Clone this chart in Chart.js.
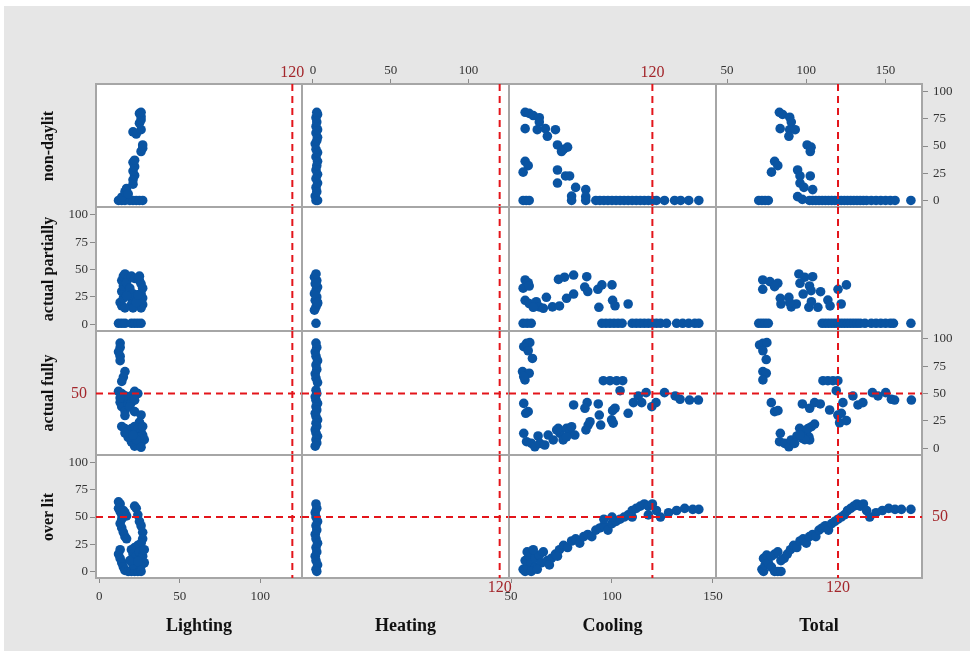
<!DOCTYPE html>
<html>
<head>
<meta charset="utf-8">
<script src="https://cdn.jsdelivr.net/npm/chart.js@4.4.1/dist/chart.umd.min.js"></script>
<style>
  body { margin: 0; width: 976px; height: 657px; background: #fff; overflow: hidden; position: relative; }
  #plot { position: absolute; left: 4px; top: 6px; width: 966px; height: 645px; background: #e6e6e6; }
  #plot canvas { position: absolute; }
  .lab { position: absolute; font-family: "Liberation Serif", "Times New Roman", serif; font-weight: bold; color: #111; white-space: nowrap; }
  .col { font-size: 18px; transform: translate(-50%, -50%); }
  .row { font-size: 16px; transform: translate(-50%, -50%) rotate(-90deg); }
</style>
</head>
<body>
<div id="plot"></div>
<script>
// matrix plot: energy use (columns) against daylight classes (rows)
const columns = ['Lighting', 'Heating', 'Cooling', 'Total'];
const rows = ['non-daylit', 'actual partially', 'actual fully', 'over lit'];
const xTicks = [[0, 50, 100], [0, 50, 100], [50, 100, 150], [50, 100, 150]];
const yTicks = [0, 25, 50, 75, 100];
const xRef = 120;
const yRef = 50;

// ---- non-daylit row ----
const lightingNonDaylit = [[12,0],[14,0],[16,0],[19,0],[21,0],[23,0],[25,0],[27,0],[14,3],[16,8],[17,11],[18,6],
  [21,15],[21,19],[22,23],[21,27],[22,31],[21,35],[22,37],[26,45],[27,48],[27,51],[21,63],[23,61],[26,65],
  [25,71],[26,74],[26,77],[25,80],[26,81]];
const heatingNonDaylit = [[2,0],[3,0],[1.5,4],[2.5,8],[2,12],[3,16],[2,20],[3,24],[2,28],[2.5,32],[3,36],[2,40],
  [3,44],[2,47],[1.5,52],[2.5,55],[3,58],[2,62],[3,65],[2,68],[2.5,72],[2,76],[3,79],[2.5,81]];
const coolingNonDaylit = [[57,81],[59,80],[61,78],[64,76],[64,72],[57,66],[63,65],[67,66],[72,65],[68,59],[73,51],
  [76,47],[78,49],[75,45],[57,36],[58.5,32],[56,26],[73,28],[77,22.5],[79,22.5],[73,16],[82,12],[87,10],[80,4],[87,3.5],
  [56,0],[57.5,0],[59,0],[80,0],[87,0],[92,0],[94,0],[96,0],[98,0],[100,0],[102,0],[104,0],[106,0],[108,0],[110,0],
  [112,0],[114,0],[116,0],[118,0],[120,0],[122,0],[126,0],[131,0],[134,0],[138,0],[143,0]];
const totalNonDaylit = [[83,81],[85,79],[89.5,76.5],[90.5,72],[83.5,66],[89.5,65],[93,65],[89,59],[100.5,51],[103,49],
  [102.5,45],[80,36],[82,32],[78,26],[94.5,28],[96,22.5],[102.5,22.5],[96,16],[98.5,12],[104,10],[94.5,3.5],[97.5,1],
  [70,0],[72,0],[74,0],[76,0],[102,0],[104,0],[106,0],[108,0],[110,0],[112,0],[114,0],[116,0],[118,0],[120,0],[122,0],
  [124,0],[126,0],[128,0],[130,0],[132,0],[134,0],[136,0],[138,0],[141,0],[144,0],[147,0],[150,0],[153,0],[156,0],[166,0]];

// ---- actual partially row ----
const lightingPartial = [[12,1],[14,1],[16,1],[20,1],[22,1],[24,1],[26,1],[13,20],[14,17],[15,24],[14,30],[15,35],
  [14,40],[15,44],[16,46],[18,42],[17,38],[19,33],[20,44],[22,42],[24,42],[25,40],[26,37],[27,33],[26,28],[27,24],
  [27,18],[26,15],[21,28],[20,24],[20,18],[21,15],[23,20],[24,27],[17,26],[16,15],[25,44]];
const heatingPartial = [[2,1],[1,13],[2,16],[3,19],[1.5,22],[2.5,25],[1,28],[2,31],[3,34],[1.5,37],[2.5,40],[1,43],
  [2,46],[3,20],[2,38]];
const coolingPartial = [[57,40.5],[58.5,38],[56,33],[59,35],[57,22],[59,19],[62.5,20.7],[64,16],[67.5,24.7],[70.5,16],
  [74,16.8],[77.5,23.8],[81,27.7],[73.5,41],[76.5,43],[81,45],[87.5,43.5],[86.5,34],[88,30],[93,32],[95,36],[93.5,15.6],
  [100,36],[100.3,22],[101.5,17],[108,18.6],[61,15.6],[66,14.7],
  [56,1],[58,1],[60,1],[95,1],[97,1],[99,1],[101,1],[103,1],[105,1],[110,1],[112,1],[114,1],[116,1],[118,1],[120,1],
  [122,1],[124,1],[127,1],[132,1],[135,1],[138,1],[141,1],[143,1]];
const totalPartial = [[72.5,40.5],[77,39],[82,37.5],[72.5,32],[80,34.4],[95.3,46],[99,43],[104,43.5],[96,37.5],[102,35],
  [98,27.7],[103,30.7],[109,29.8],[120,32],[125.3,36],[83.6,23.8],[89,24.7],[84,18.6],[90.5,16],[93.7,18.6],[101.6,15.6],
  [107.3,15.6],[103.2,20.7],[113.6,22.2],[115,16.8],[122,18.6],[89.5,19.8],
  [70,1],[72,1],[74,1],[76,1],[110,1],[112,1],[114,1],[116,1],[118,1],[120,1],[122,1],[124,1],[126,1],[128,1],[130,1],
  [132,1],[134,1],[137,1],[141,1],[144,1],[147,1],[150,1],[153,1],[155,1],[166,1]];

// ---- actual fully row ----
const lightingFully = [[13,96],[13,92],[12,88],[13,84],[13,80],[16,70],[15,65],[14,61],[12,52],[14,50],[16,48],[18,46],
  [20,48],[22,52],[24,50],[15,44],[13,42],[14,38],[16,34],[18,40],[20,42],[22,44],[13,46],[16,30],[19,38],[22,33.5],
  [26,30.5],[25,24],[14,20],[16,18],[18,16],[20,18],[22,20],[24,18],[26,15],[27,12],[28,8],[26,5],[24,3],[22,2],[20,6],
  [18,10],[16,14],[27,20],[25,10],[23,8],[21,12],[26,1]];
const heatingFully = [[2,96],[2.5,92],[1.5,88],[2,84],[3,80],[2,76],[2.5,72],[1.5,68],[2,64],[3,60],[2,53],[2.5,50],
  [1.5,47],[2,44],[3,41],[2,38],[2.5,35],[1.5,32],[2,29],[3,26],[2,23],[2.5,20],[1.5,17],[2,14],[3,11],[2,8],[2.5,5],[1.5,2]];
const coolingFully = [[57.7,95.8],[59.3,96.4],[56.3,92.7],[58.5,89],[60.6,82],[55.7,70],[59,68.5],[56.9,62.4],[56.3,65.4],
  [95.7,61.7],[99,61.7],[102.3,61.7],[105.3,61.7],[104,52.6],[56.3,41],[58.5,33.5],[57.3,32],
  [81,39.6],[87.7,41.7],[86.6,36.6],[93.2,40.5],[93.7,30.4],[94.4,21.3],[101.5,36.6],[100.3,34.4],[99.8,26],[100.6,23],
  [108,32],[110.6,41.7],[113,47.8],[114.7,41.7],[116.9,50.8],[119.7,38],[121.8,41.7],[126,50.8],[131.3,47.8],[133.7,44.8],
  [138.4,44.1],[142.8,44.1],[56.3,13.8],[57.7,6.1],[60.1,4.6],[61.8,1.5],[63.4,11.3],[64.3,4.6],[66.7,3.1],[68.4,12.2],
  [70.9,7.7],[73.4,18.3],[74.2,13.8],[75.8,7.7],[77.5,18.3],[79.2,15.2],[80,19.8],[81.6,12.2],[87.1,16.8],[88.2,21.3],
  [89.1,24.3],[77.5,10.6],[72.6,16.8]];
const totalFully = [[70.5,94.3],[72.6,95.8],[75.1,96.4],[72.6,89],[74.7,81],[72.6,70],[74.7,68.5],[72.6,62.4],[77.9,41.7],
  [80,33.5],[82.1,34.4],[83.6,13.8],[83.1,6.1],[86.3,4.6],[89,1.5],[90.5,7.7],[92.6,4.6],[94.1,11.3],[95.8,18.3],[97.5,9.2],
  [100,15.2],[101.6,10.6],[103.2,19.8],[105.2,22.2],[102.1,7.7],[98,16],[101,18],[99,8],[96,12],
  [97.5,40.5],[102.1,36.6],[105.2,41.7],[108.8,40.5],[110.5,61.7],[113.6,61.7],[116.8,61.7],[119.9,61.7],[118.9,52.6],
  [114.7,35],[119.9,30.4],[122.1,32],[121,23.4],[125.3,25.3],[123.1,41.7],[129.4,47.8],[132.6,39.6],[135.7,41.7],
  [141.7,50.8],[145.2,47.8],[150.1,50.8],[153.7,44.8],[155.7,44.1],[166.3,44.1]];

// ---- over lit row ----
const lightingOver = [[12,64],[13,62],[12,58],[13,55],[14,52],[15,56],[16,54],[17,51],[14,48],[13,44],[14,40],[15,36],
  [16,32],[17,30],[13,20],[12,16],[13,12],[14,8],[15,4],[16,1],[18,0],[20,0],[22,0],[24,0],[26,0],[22,60],[23,58],[24,52],
  [25,46],[26,42],[27,36],[27,30],[24,24],[26,26],[22,22],[20,20],[21,16],[23,14],[25,18],[27,14],[28,8],[26,5],[21,6],
  [19,10],[24,9],[28,20]];
const heatingOver = [[2,62],[2.5,58],[1.5,54],[2,50],[3,46],[2,42],[2.5,38],[1.5,34],[2,30],[3,26],[2,22],[2.5,18],
  [1.5,14],[2,10],[3,6],[2,2],[2.5,0]];
const coolingOver = [[56,2],[57,0],[58,5],[57,10],[59,14],[60,8],[62,4],[62,12],[64,15],[66,18],[65,8],[68,10],[70,12],
  [72,16],[74,20],[76,24],[78,22],[80,28],[82,30],[84,26],[86,32],[88,34],[90,32],[92,38],[94,40],[96,42],[98,38],
  [100,44],[102,46],[104,48],[106,50],[108,52],[110,56],[112,58],[114,60],[116,62],[118,60],[120,62],[122,56],[124,50],
  [128,54],[132,56],[136,58],[140,57],[143,57],[60,0],[63,2],[58,18],[61,20],[69,6],[73,14],[96,48],[100,50],[110,50],[118,52]];
const totalOver = [[72,2],[73,0],[74,6],[73,12],[75,15],[76,8],[78,4],[78,14],[80,0],[82,0],[84,0],[80,16],[82,18],
  [84,10],[86,12],[88,16],[90,20],[92,24],[94,22],[96,28],[98,30],[100,26],[102,32],[104,34],[106,32],[108,38],[110,40],
  [112,42],[114,38],[116,44],[118,46],[120,48],[122,50],[124,52],[126,56],[128,58],[130,60],[132,62],[134,60],[136,62],
  [138,56],[140,50],[144,54],[148,56],[152,58],[156,57],[160,57],[166,57]];

const panels = [
  [lightingNonDaylit, heatingNonDaylit, coolingNonDaylit, totalNonDaylit],
  [lightingPartial, heatingPartial, coolingPartial, totalPartial],
  [lightingFully, heatingFully, coolingFully, totalFully],
  [lightingOver, heatingOver, coolingOver, totalOver]
];

// axis windows for each column, and the shared one for the rows
const xRanges = [[-2, 126], [-7, 126], [49, 151.5], [43, 173]];
const yRange = [-6, 107];

// panel edges in page pixels (relative to #plot)
const colEdges = [92, 298, 505, 712, 918];
const rowEdges = [78, 201, 325, 449, 572];
const M = 45; // room round each panel for ticks and labels

const serif = '"Liberation Serif", "Times New Roman", serif';
Chart.defaults.font.family = serif;

const tickFont = { family: serif, size: 13 };

function xAxis(c, pos, show) {
  return {
    type: 'linear', axis: 'x', position: pos,
    min: xRanges[c][0], max: xRanges[c][1],
    afterBuildTicks: s => { s.ticks = xTicks[c].map(v => ({ value: v })); },
    afterFit: s => { s.height = M; },
    grid: { display: show, drawOnChartArea: false, tickLength: 5, tickColor: '#8a8a8a', lineWidth: 1 },
    border: { display: true, color: '#a6a6a6', width: 2 },
    ticks: { display: show, font: tickFont, color: '#333', padding: pos === 'top' ? 1 : 6, maxRotation: 0 }
  };
}

function yAxis(pos, show) {
  return {
    type: 'linear', axis: 'y', position: pos,
    min: yRange[0], max: yRange[1],
    afterBuildTicks: s => { s.ticks = yTicks.map(v => ({ value: v })); },
    afterFit: s => { s.width = M; },
    grid: { display: show, drawOnChartArea: false, tickLength: 6, tickColor: '#8a8a8a', lineWidth: 1 },
    border: { display: true, color: '#a6a6a6', width: 2 },
    ticks: { display: show, font: tickFont, color: '#333', padding: pos === 'left' ? 2 : 5 }
  };
}

// white plotting area behind the points
const panelBg = {
  id: 'panelBg',
  beforeDraw(chart) {
    const { ctx, chartArea: a } = chart;
    ctx.save();
    ctx.fillStyle = '#fff';
    ctx.fillRect(a.left, a.top, a.width, a.height);
    ctx.restore();
  }
};

// red dashed reference lines at x = 120 and y = 50, with their labels
const refLines = {
  id: 'refLines',
  afterDatasetsDraw(chart, args, opts) {
    const { ctx, chartArea: a, scales } = chart;
    const px = scales.x.getPixelForValue(xRef);
    ctx.save();
    ctx.strokeStyle = '#e3151b';
    ctx.lineWidth = 2;
    ctx.setLineDash([7, 5]);
    ctx.beginPath();
    ctx.moveTo(px, a.top);
    ctx.lineTo(px, a.bottom);
    ctx.stroke();
    let py = null;
    if (opts.hLine) {
      py = scales.y.getPixelForValue(yRef);
      ctx.beginPath();
      ctx.moveTo(a.left, py);
      ctx.lineTo(a.right, py);
      ctx.stroke();
    }
    ctx.fillStyle = '#a3262b';
    ctx.font = '16px ' + serif;
    ctx.textBaseline = 'middle';
    if (opts.xLabel) {
      ctx.textAlign = 'center';
      ctx.fillText(String(xRef), px, opts.xLabel === 'top' ? a.top - 11 : a.bottom + 10);
    }
    if (opts.yLabel === 'left') {
      ctx.textAlign = 'right';
      ctx.fillText(String(yRef), a.left - 9, py);
    } else if (opts.yLabel === 'right') {
      ctx.textAlign = 'left';
      ctx.fillText(String(yRef), a.right + 10, py);
    }
    ctx.restore();
  }
};

const plot = document.getElementById('plot');

rows.forEach((rowName, r) => {
  columns.forEach((colName, c) => {
    const w = colEdges[c + 1] - colEdges[c];
    const h = rowEdges[r + 1] - rowEdges[r];
    const cv = document.createElement('canvas');
    cv.width = w + 2 * M;
    cv.height = h + 2 * M;
    cv.style.left = (colEdges[c] - M) + 'px';
    cv.style.top = (rowEdges[r] - M) + 'px';
    plot.appendChild(cv);

    new Chart(cv, {
      type: 'scatter',
      data: {
        datasets: [{
          data: panels[r][c].map(([x, y]) => ({ x, y })),
          backgroundColor: '#0a54a2',
          borderWidth: 0,
          pointRadius: 4.8,
          pointHoverRadius: 4.8,
          clip: 0
        }]
      },
      options: {
        responsive: false,
        animation: false,
        events: [],
        layout: { padding: 0 },
        plugins: {
          legend: { display: false },
          tooltip: { enabled: false },
          refLines: {
            hLine: r >= 2,
            xLabel: r === 0 && c % 2 === 0 ? 'top' : (r === 3 && c % 2 === 1 ? 'bottom' : null),
            yLabel: r === 2 && c === 0 ? 'left' : (r === 3 && c === 3 ? 'right' : null)
          }
        },
        scales: {
          x: xAxis(c, 'bottom', r === 3 && c % 2 === 0),
          x2: xAxis(c, 'top', r === 0 && c % 2 === 1),
          y: yAxis('left', c === 0 && r % 2 === 1),
          y2: yAxis('right', c === 3 && r % 2 === 0)
        }
      },
      plugins: [panelBg, refLines]
    });
  });
});

// variable names along the bottom and down the left side
columns.forEach((name, c) => {
  const d = document.createElement('div');
  d.className = 'lab col';
  d.textContent = name;
  d.style.left = ((colEdges[c] + colEdges[c + 1]) / 2) + 'px';
  d.style.top = '619px';
  plot.appendChild(d);
});
rows.forEach((name, r) => {
  const d = document.createElement('div');
  d.className = 'lab row';
  d.textContent = name;
  d.style.left = '44px';
  d.style.top = ((rowEdges[r] + rowEdges[r + 1]) / 2) + 'px';
  plot.appendChild(d);
});
</script>
</body>
</html>
